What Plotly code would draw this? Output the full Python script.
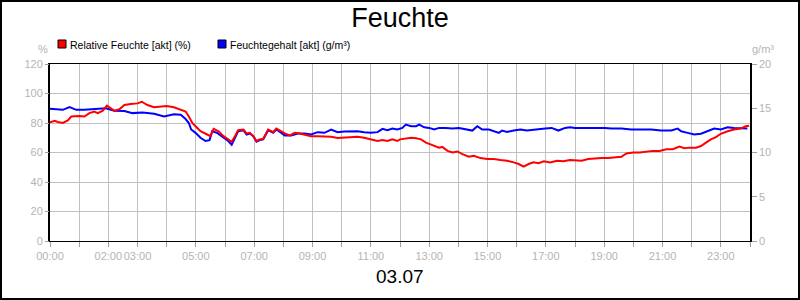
import plotly.graph_objects as go

# ---------------- data ----------------
# Relative Feuchte [akt] (%)  -- time in hours of day
rh_hours = [0.0, 0.16, 0.27, 0.44, 0.61, 0.73, 1.01, 1.18, 1.35, 1.52, 1.64, 1.81, 1.95, 2.09, 2.2,
            2.38, 2.55, 2.77, 3.0, 3.15, 3.34, 3.57, 3.8, 4.0, 4.25, 4.48, 4.65, 4.76, 4.88, 4.99,
            5.16, 5.39, 5.5, 5.61, 5.78, 5.95, 6.11, 6.23, 6.34, 6.45, 6.63, 6.74, 6.85, 6.97,
            7.08, 7.19, 7.31, 7.48, 7.65, 7.76, 7.93, 8.05, 8.22, 8.39, 8.56, 8.73, 8.95, 9.18,
            9.41, 9.64, 9.86, 10.09, 10.32, 10.55, 10.77, 11.0, 11.23, 11.4, 11.57, 11.74, 11.91,
            12.0, 12.2, 12.38, 12.55, 12.72, 12.89, 13.11, 13.34, 13.45, 13.63, 13.8, 13.97, 14.14,
            14.36, 14.53, 14.76, 14.99, 15.22, 15.44, 15.67, 15.9, 16.07, 16.24, 16.41, 16.58,
            16.75, 16.93, 17.15, 17.38, 17.6, 17.83, 18.0, 18.23, 18.45, 18.68, 18.91, 19.14,
            19.36, 19.59, 19.76, 19.99, 20.22, 20.44, 20.67, 20.9, 21.13, 21.35, 21.58, 21.75,
            21.92, 22.15, 22.32, 22.49, 22.66, 22.83, 23.0, 23.23, 23.45, 23.68, 23.85, 23.97]
rel_feuchte = [80.4, 81.5, 80.7, 80.0, 81.8, 84.4, 84.7, 84.4, 86.7, 87.8, 86.7, 88.4, 91.8, 90.0, 88.4,
               89.3, 92.2, 92.9, 93.3, 94.4, 92.2, 90.7, 91.1, 91.5, 90.7, 88.9, 87.8, 84.4, 80.0, 77.8,
               74.4, 72.2, 71.1, 76.0, 74.4, 71.1, 68.9, 67.3, 71.1, 75.1, 75.6, 72.9, 73.3, 71.1,
               67.8, 68.9, 69.3, 75.6, 73.8, 76.2, 74.4, 72.9, 71.6, 73.3, 72.9, 72.2, 71.1, 71.1,
               71.1, 70.7, 69.8, 70.0, 70.0, 70.7, 70.0, 68.9, 67.8, 68.4, 67.8, 68.9, 67.8,
               68.9, 69.6, 70.0, 69.6, 68.9, 66.7, 65.1, 63.3, 63.8, 61.1, 60.0, 60.7, 58.9,
               57.1, 57.8, 56.2, 55.6, 55.6, 54.9, 54.4, 53.3, 52.2, 50.4, 52.2, 53.3,
               52.7, 54.0, 53.3, 54.4, 54.0, 54.9, 54.9, 54.4, 55.6, 56.0, 56.2, 56.2,
               56.7, 57.1, 59.3, 60.0, 60.0, 60.7, 61.1, 61.1, 62.2, 62.2, 64.0, 62.9,
               63.3, 63.3, 64.4, 66.7, 68.9, 70.4, 72.7, 74.4, 75.6, 76.2, 77.8, 78.2]

# Feuchtegehalt [akt] (g/m³)
ah_hours = [0.0, 0.27, 0.44, 0.67, 0.9, 1.18, 1.52, 1.92, 2.2, 2.55, 2.83, 3.17, 3.57, 3.91, 4.25,
            4.48, 4.65, 4.76, 4.84, 4.99, 5.16, 5.33, 5.47, 5.56, 5.73, 5.9, 6.11, 6.23, 6.34,
            6.45, 6.63, 6.74, 6.85, 6.97, 7.08, 7.19, 7.31, 7.48, 7.65, 7.76, 7.93, 8.05, 8.27,
            8.5, 8.73, 8.95, 9.18, 9.41, 9.64, 9.86, 10.09, 10.32, 10.55, 10.77, 11.0, 11.23,
            11.4, 11.57, 11.74, 11.91, 12.08, 12.2, 12.38, 12.55, 12.66, 12.83, 13.0, 13.17,
            13.34, 13.57, 13.8, 14.02, 14.25, 14.48, 14.65, 14.82, 15.05, 15.22, 15.39, 15.5,
            15.67, 15.9, 16.13, 16.35, 16.52, 16.75, 16.98, 17.2, 17.43, 17.66, 17.83, 18.0,
            18.17, 18.34, 18.57, 18.8, 19.02, 19.25, 19.59, 19.93, 20.27, 20.61, 20.95, 21.3,
            21.52, 21.64, 21.86, 22.09, 22.32, 22.55, 22.77, 23.0, 23.23, 23.45, 23.68, 23.91]
feuchtegehalt = [14.93, 14.82, 14.82, 15.12, 14.82, 14.82, 14.88, 15.0, 14.73, 14.7, 14.45, 14.52, 14.37, 14.07, 14.33,
                 14.27, 13.78, 13.33, 12.6, 12.22, 11.67, 11.3, 11.4, 12.4, 12.22, 11.85, 11.3, 10.88, 11.67,
                 12.4, 12.52, 12.03, 12.15, 11.85, 11.22, 11.4, 11.48, 12.52, 12.22, 12.6, 12.22, 11.93, 11.93,
                 12.15, 12.15, 12.03, 12.3, 12.22, 12.6, 12.3, 12.37, 12.4, 12.4, 12.3, 12.22, 12.3,
                 12.67, 12.52, 12.7, 12.6, 12.78, 13.15, 12.97, 12.97, 13.15, 12.85, 12.78, 12.6,
                 12.78, 12.78, 12.7, 12.78, 12.6, 12.48, 12.97, 12.6, 12.6, 12.4, 12.22, 12.48,
                 12.33, 12.48, 12.6, 12.48, 12.52, 12.6, 12.7, 12.78, 12.48, 12.78, 12.85, 12.78,
                 12.78, 12.85, 12.78, 12.78, 12.78, 12.7, 12.7, 12.6, 12.6, 12.6, 12.48, 12.48,
                 12.7, 12.4, 12.22, 12.03, 12.12, 12.4, 12.7, 12.6, 12.85, 12.78, 12.7, 12.7]

hour_ticks = list(range(25))
hour_labels = {0: "00:00", 2: "02:00", 3: "03:00", 5: "05:00", 7: "07:00", 9: "09:00",
               11: "11:00", 13: "13:00", 15: "15:00", 17: "17:00", 19: "19:00",
               21: "21:00", 23: "23:00"}
left_ticks = [0, 20, 40, 60, 80, 100, 120]
right_ticks = [0, 5, 10, 15, 20]

series_names = ["Relative Feuchte [akt] (%)", "Feuchtegehalt [akt] (g/m³)"]
title_text = "Feuchte"
date_text = "03.07"

# ---------------- figure ----------------
FONT = "Liberation Sans, Arial, sans-serif"
GRAY = "#b4b4b4"
GRID = "#c0c0c0"

L, R, T, B = 50, 50, 64, 59
W, H = 800, 300
PW, PH = W - L - R, H - T - B


def px(x):
    return (x - L) / PW


def py(y):
    return (H - B - y) / PH


fig = go.Figure()

# blue on primary (right) axis, red on overlaying left axis so red is drawn on top
fig.add_trace(go.Scatter(x=ah_hours, y=feuchtegehalt, mode="lines", yaxis="y",
                         line=dict(color="#0000ff", width=2), showlegend=False))
fig.add_trace(go.Scatter(x=rh_hours, y=rel_feuchte, mode="lines", yaxis="y2",
                         line=dict(color="#ff0000", width=2), showlegend=False))

fig.update_layout(
    width=W, height=H,
    margin=dict(l=L, r=R, t=T, b=B, pad=0),
    paper_bgcolor="white", plot_bgcolor="white",
    font=dict(family=FONT, size=11, color="black"),
    title=dict(text=title_text, x=0.5, xanchor="center", y=1 - 18 / H, yanchor="middle",
               font=dict(family=FONT, size=27, color="black")),
    xaxis=dict(range=[0, 24], tickmode="array", tickvals=hour_ticks,
               ticktext=[hour_labels.get(h, "") for h in hour_ticks],
               tickangle=0, automargin=False,
               showgrid=True, gridcolor=GRID, gridwidth=1,
               ticks="outside", ticklen=5, tickcolor="#a0a0a0",
               tickfont=dict(color=GRAY, size=11, family=FONT),
               showline=True, mirror=True, linecolor="black", linewidth=1,
               zeroline=False, anchor="y"),
    yaxis=dict(range=[0, 20], side="right", tickmode="array", tickvals=right_ticks,
               showgrid=False, zeroline=False, automargin=False,
               ticks="outside", ticklen=5, tickcolor="#a0a0a0",
               tickfont=dict(color=GRAY, size=11, family=FONT),
               showline=True, mirror=True, linecolor="black", linewidth=1.5),
    yaxis2=dict(range=[0, 120], side="left", overlaying="y", tickmode="array",
                tickvals=left_ticks, showgrid=True, gridcolor=GRID, gridwidth=1,
                zeroline=False, ticks="outside", ticklen=4, tickcolor="#a0a0a0",
                automargin=False,
                tickfont=dict(color=GRAY, size=11, family=FONT), showline=False),
)

# outer black frame of the image
fig.add_shape(type="rect", xref="paper", yref="paper",
              x0=px(1), x1=px(W - 1), y0=py(H - 1), y1=py(1),
              line=dict(color="black", width=2), fillcolor="rgba(0,0,0,0)", layer="above")

# legend (squares + text)
legend_items = [(series_names[0], "#ff0000", 58), (series_names[1], "#0000ff", 218)]
for name, col, x0 in legend_items:
    fig.add_shape(type="rect", xref="paper", yref="paper",
                  x0=px(x0), x1=px(x0 + 8), y0=py(48), y1=py(40),
                  line=dict(color="black", width=1), fillcolor=col)
    fig.add_annotation(text=name, xref="paper", yref="paper", x=px(x0 + 10), y=py(44.5),
                       xanchor="left", yanchor="middle", showarrow=False,
                       font=dict(family=FONT, size=10.5, color="black"))

# axis unit labels
fig.add_annotation(text="%", xref="paper", yref="paper", x=px(43), y=py(49),
                   xanchor="center", yanchor="middle", showarrow=False,
                   font=dict(family=FONT, size=11, color=GRAY))
fig.add_annotation(text="g/m³", xref="paper", yref="paper", x=px(763), y=py(49),
                   xanchor="center", yanchor="middle", showarrow=False,
                   font=dict(family=FONT, size=11, color=GRAY))

# date below chart
fig.add_annotation(text=date_text, xref="paper", yref="paper", x=0.5, y=py(276),
                   xanchor="center", yanchor="middle", showarrow=False,
                   font=dict(family=FONT, size=19, color="black"))

fig.write_html("out.html")
